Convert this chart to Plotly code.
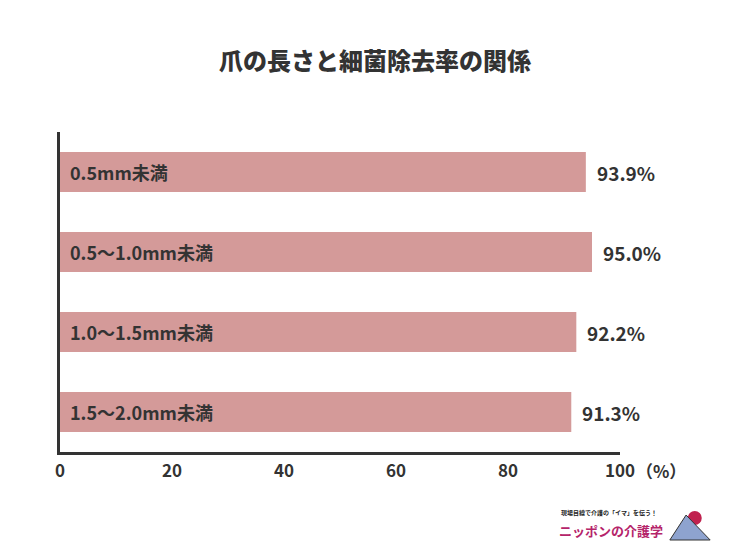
import plotly.graph_objects as go

categories = ['0.5mm未満', '0.5〜1.0mm未満', '1.0〜1.5mm未満', '1.5〜2.0mm未満']
removal_rate = [93.9, 95.0, 92.2, 91.3]
tick_vals = [0, 20, 40, 60, 80, 100]

FONT = 'Noto Sans CJK JP'
DARK = '#333333'
BAR = '#d49a99'

fig = go.Figure()
fig.add_trace(go.Bar(
    x=removal_rate, y=categories, orientation='h',
    marker=dict(color=BAR, line=dict(width=0)),
    width=0.5, hoverinfo='skip',
))

# category labels inside bars, values after bars
for cat, v in zip(categories, removal_rate):
    fig.add_annotation(x=0, y=cat, xref='x', yref='y', text='<b>%s</b>' % cat,
                       showarrow=False, xanchor='left', xshift=8,
                       font=dict(family=FONT, size=18, color=DARK))
    fig.add_annotation(x=v, y=cat, xref='x', yref='y', text='<b>%.1f%%</b>' % v,
                       showarrow=False, xanchor='left', xshift=9,
                       font=dict(family=FONT, size=19, color=DARK))

fig.add_annotation(x=1, y=0, xref='paper', yref='paper', text='<b>（%）</b>',
                   showarrow=False, xanchor='left', yanchor='top', xshift=14, yshift=-4,
                   font=dict(family=FONT, size=17, color=DARK))

# logo-ish corner mark
fig.add_shape(type='circle', xref='paper', yref='paper',
              x0=1.121, y0=-0.228, x1=1.146, y1=-0.184,
              fillcolor='#c0224f', line=dict(width=0))
fig.add_shape(type='path', xref='paper', yref='paper',
              path='M 1.089 -0.275 L 1.118 -0.197 L 1.161 -0.275 Z',
              fillcolor='#8ea3cf', line=dict(color='#333', width=1))
fig.add_annotation(x=0.893, y=-0.19, xref='paper', yref='paper',
                   text='<b>現場目線で介護の「イマ」を伝う！</b>', showarrow=False,
                   xanchor='left', yanchor='middle', borderpad=0,
                   font=dict(family=FONT, size=6, color='#222'))
fig.add_annotation(x=0.89, y=-0.245, xref='paper', yref='paper',
                   text='<b>ニッポンの介護学</b>', showarrow=False,
                   xanchor='left', yanchor='middle', borderpad=0,
                   font=dict(family=FONT, size=13, color='#b5246a'))

fig.update_layout(
    width=734, height=554,
    margin=dict(l=52, r=122, t=124, b=110),
    paper_bgcolor='white', plot_bgcolor='white',
    showlegend=False,
    title=dict(text='<b>爪の長さと細菌除去率の関係</b>', x=0.5, xanchor='center',
               y=0.9025, yanchor='middle',
               font=dict(family='Noto Sans CJK JP Black, ' + FONT, size=24,
                         color=DARK, weight=900)),
    xaxis=dict(range=[0, 100], tickvals=tick_vals, showgrid=False, zeroline=False,
               showline=True, linecolor=DARK, linewidth=3, ticks='',
               tickfont=dict(family=FONT, size=17, color=DARK, weight='bold'),
               ticklabelstandoff=2, fixedrange=True),
    yaxis=dict(range=[3.5, -0.5], showticklabels=False, showgrid=False, zeroline=False,
               showline=True, linecolor=DARK, linewidth=3, ticks='', fixedrange=True),
    font=dict(family=FONT),
)

fig.write_html('out.html')
